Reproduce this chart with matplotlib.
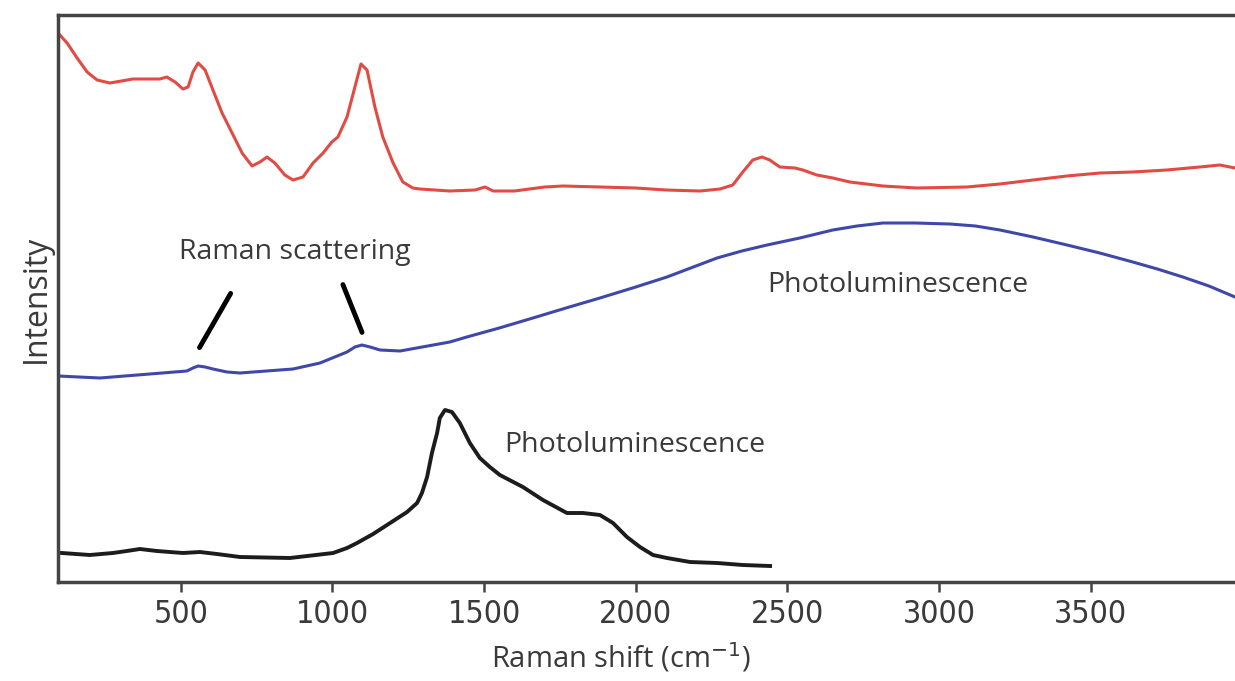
import matplotlib
matplotlib.use('Agg')
import matplotlib.pyplot as plt
import numpy as np

plt.rcParams['font.family'] = ['Open Sans', 'DejaVu Sans']

# Red spectrum (top)
red_x = [95, 125, 158, 191, 224, 266, 342, 431, 454, 481, 507, 524, 540, 557, 580,
         606, 636, 669, 702, 735, 761, 784, 810, 843, 870, 903, 936, 969, 998,
         1018, 1048, 1074, 1094, 1114, 1140, 1166, 1200, 1232, 1265, 1288, 1387,
         1470, 1503, 1530, 1600, 1700, 1760, 1882, 2000, 2100, 2212, 2278, 2320,
         2353, 2386, 2416, 2442, 2475, 2525, 2551, 2597, 2650, 2706, 2815, 2927,
         3092, 3201, 3310, 3422, 3531, 3639, 3751, 3860, 3926, 3976]
red_y = [549, 539, 524, 510, 502, 499, 503, 503, 505, 500, 493, 495, 510, 519, 512,
         492, 469, 449, 429, 416, 420, 425, 419, 407, 402, 405, 419, 429, 440,
         445, 465, 495, 518, 512, 475, 445, 419, 400, 394, 393, 391,
         392, 395, 391, 391, 395, 396, 395, 394, 392, 391, 393, 397,
         410, 422, 425, 422, 415, 414, 412, 407, 404, 400, 396, 394,
         395, 398, 402, 406, 409, 410, 412, 415, 417, 414]

# Blue spectrum (middle)
blue_x = [95, 233, 398, 520, 540, 557, 580, 606, 652, 695, 870, 959, 1048, 1074,
          1097, 1124, 1157, 1223, 1387, 1443, 1550, 1661, 1770, 1882, 2000, 2103,
          2190, 2268, 2350, 2433, 2541, 2650, 2730, 2815, 2920, 3036, 3120, 3201,
          3310, 3422, 3530, 3639, 3720, 3804, 3890, 3976]
blue_y = [206, 204, 208, 211, 214, 216, 215, 213, 210, 209, 213, 219, 230, 235,
          237, 235, 232, 231, 240, 245, 254, 264, 274, 284, 295, 305,
          315, 324, 331, 337, 344, 352, 356, 359, 359, 358, 356, 352,
          345, 337, 329, 320, 313, 305, 296, 285]

# Black spectrum (bottom)
black_x = [108, 200, 276, 322, 365, 421, 507, 563, 619, 695, 860, 1002, 1048, 1081,
           1134, 1190, 1246, 1279, 1295, 1312, 1328, 1345, 1354, 1371, 1394, 1420,
           1453, 1486, 1519, 1552, 1628, 1694, 1773, 1826, 1882, 1925, 1971, 2014,
           2057, 2103, 2179, 2268, 2353, 2443]
black_y = [29, 27, 29, 31, 33, 31, 29, 30, 28, 25, 24, 29, 34, 39,
           48, 59, 70, 79, 89, 105, 129, 149, 164, 172, 170, 159,
           139, 124, 115, 107, 95, 82, 69, 69, 67, 59, 45, 35,
           27, 24, 20, 19, 17, 16]

xticks = [500, 1000, 1500, 2000, 2500, 3000, 3500]

# annotation leader lines (start, end) for the two Raman peaks
raman_lines = [((669, 291), (557, 232)), ((1031, 300), (1101, 247))]

fig = plt.figure(figsize=(12.35, 6.81), dpi=100)
ax = fig.add_axes([58 / 1235, 1 - 582 / 681, 1 - 58 / 1235, (582 - 15) / 681])

ax.plot(red_x, red_y, color='#e24a44', lw=2.2)
ax.plot(blue_x, blue_y, color='#3f48a8', lw=2.2)
ax.plot(black_x, black_y, color='#1c1c1c', lw=2.8)

for start, end in raman_lines:
    ax.annotate('', xy=end, xytext=start,
                arrowprops=dict(arrowstyle='-', lw=3.5, color='black'))

txt_color = '#3a3a3a'
ax.text(876, 330, 'Raman scattering', fontsize=20.5, color=txt_color,
        ha='center', va='center')
ax.text(2865, 297, 'Photoluminescence', fontsize=20.5, color=txt_color,
        ha='center', va='center')
ax.text(1997, 137, 'Photoluminescence', fontsize=20.5, color=txt_color,
        ha='center', va='center')

ax.set_xlim(95, 3976)
ax.set_ylim(0, 567)
ax.set_xticks(xticks)
ax.set_xticklabels([str(t) for t in xticks],
                   family=['Liberation Sans Narrow', 'DejaVu Sans'],
                   fontstretch='condensed', fontsize=23, color=txt_color)
ax.set_yticks([])
ax.tick_params(axis='x', direction='out', length=7, width=1.8,
               color='#444444', pad=5)

for side in ['left', 'bottom', 'top']:
    ax.spines[side].set_linewidth(2.5)
    ax.spines[side].set_color('#444444')
ax.spines['right'].set_visible(False)

ax.set_xlabel('Raman shift (cm$^{-1}$)', fontsize=21, color=txt_color, labelpad=8)
ax.xaxis.label.set_x(0.478)
ax.set_ylabel('Intensity', fontsize=23, color=txt_color, labelpad=4)

fig.savefig('out.png', dpi=100)
